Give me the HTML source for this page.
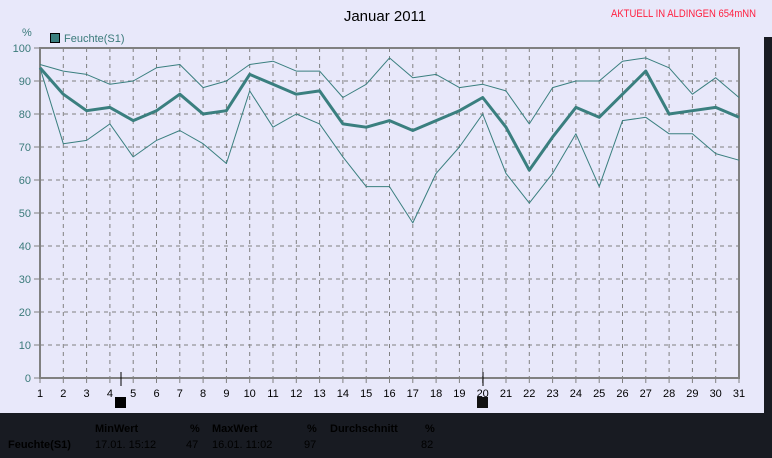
<!DOCTYPE html>
<html><head><meta charset="utf-8"><style>
html,body{margin:0;padding:0;width:772px;height:458px;overflow:hidden;background:#e8e8fa;font-family:"Liberation Sans",sans-serif}
svg{display:block}
</style></head><body>
<svg id="s" width="772" height="458" xmlns="http://www.w3.org/2000/svg" font-family="Liberation Sans, sans-serif">
<rect x="0" y="0" width="772" height="458" fill="#e8e8fa"/>
<rect x="764" y="37" width="8" height="421" fill="#181b22"/>
<rect x="0" y="413" width="772" height="45" fill="#181b22"/>
<text x="385" y="21" font-size="15" text-anchor="middle" fill="#000">Januar 2011</text>
<text x="611" y="17" font-size="11" fill="#ff2040" textLength="145" lengthAdjust="spacingAndGlyphs">AKTUELL IN ALDINGEN 654mNN</text>
<text x="22" y="36" font-size="11" fill="#3a7a7a">%</text>
<rect x="50.5" y="33.5" width="9" height="9" fill="#3a7f7f" stroke="#000"/>
<text x="64" y="42" font-size="11" fill="#3a7a7a">Feuchte(S1)</text>
<g id="grid"></g>
<rect x="40" y="48" width="699" height="330" fill="none" stroke="#808080" stroke-width="2"/>
<g id="lines"></g>
<line x1="121" y1="372" x2="121" y2="386" stroke="#000"/>
<line x1="483" y1="372" x2="483" y2="386" stroke="#000"/>
<rect x="115" y="397" width="11" height="11" fill="#000"/>
<rect x="477" y="397" width="11" height="11" fill="#111"/>
<g font-size="11" font-weight="bold" fill="#000">
<text x="95" y="432">MinWert</text><text x="190" y="432">%</text><text x="212" y="432">MaxWert</text><text x="307" y="432">%</text><text x="330" y="432">Durchschnitt</text><text x="425" y="432">%</text>
<text x="8" y="448">Feuchte(S1)</text></g>
<g font-size="11" fill="#000"><text x="95" y="448">17.01.  15:12</text><text x="186" y="448">47</text><text x="212" y="448">16.01.  11:02</text><text x="304" y="448">97</text><text x="421" y="448">82</text></g>
</svg>
<script>
var ns="http://www.w3.org/2000/svg",g=document.getElementById("grid"),L=document.getElementById("lines");
function X(d){return 40+(d-1)*699/30}function Y(v){return 378-3.3*v}
function el(p,t,a){var e=document.createElementNS(ns,t);for(var k in a)e.setAttribute(k,a[k]);p.appendChild(e);return e}
for(var v=0;v<=100;v+=10){var y=Y(v);if(v>0&&v<100)el(g,"line",{x1:40,x2:739,y1:y,y2:y,stroke:"#808080","stroke-dasharray":"4,4"});
el(g,"line",{x1:34,x2:40,y1:y,y2:y,stroke:"#808080"});var t=el(g,"text",{x:31,y:y+4,"font-size":11,"text-anchor":"end",fill:"#3a7a7a"});t.textContent=v}
for(var d=1;d<=31;d++){var x=X(d);if(d>1&&d<31)el(g,"line",{x1:x,x2:x,y1:48,y2:378,stroke:"#808080","stroke-dasharray":"4,4"});
el(g,"line",{x1:x,x2:x,y1:378,y2:383,stroke:"#808080"});var t=el(g,"text",{x:x,y:397,"font-size":11,"text-anchor":"middle",fill:"#000"});t.textContent=d}
var mx=[95,93,92,89,90,94,95,88,90,95,96,93,93,85,89,97,91,92,88,89,87,77,88,90,90,96,97,94,86,91,85];
var av=[94,86,81,82,78,81,86,80,81,92,89,86,87,77,76,78,75,78,81,85,76,63,73,82,79,86,93,80,81,82,79];
var mn=[94,71,72,77,67,72,75,71,65,87,76,80,77,67,58,58,47,62,70,80,62,53,62,74,58,78,79,74,74,68,66];
function pl(a,w){el(L,"polyline",{points:a.map(function(v,i){return X(i+1)+","+Y(v)}).join(" "),fill:"none",stroke:"#3a7f7f","stroke-width":w,"stroke-linejoin":"round"})}
pl(mx,1);pl(mn,1);pl(av,3);
</script>
</body></html>
